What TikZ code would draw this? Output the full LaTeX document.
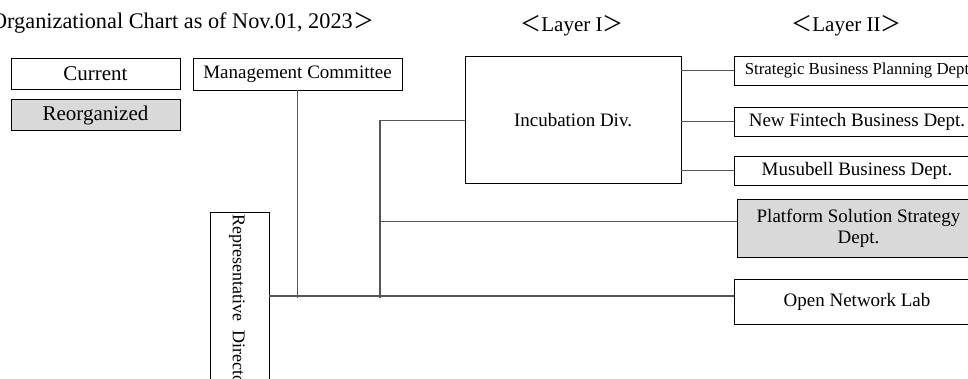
\documentclass[tikz,border=0pt]{standalone}
\usepackage{fontspec}
\setmainfont{Liberation Serif}
\newfontfamily\cjkfont{Noto Sans CJK JP}
\newcommand\ltbr{{\cjkfont ＜}}
\newcommand\gtbr{{\cjkfont ＞}}
\definecolor{linegray}{RGB}{85,85,85}
\definecolor{boxgray}{RGB}{217,217,217}
\begin{document}
\begin{tikzpicture}[x=1pt,y=-1pt,
  box/.style={draw=black, line width=0.8pt, rectangle, inner sep=0pt, align=center},
  conn/.style={draw=linegray, line width=1.2pt},
  f19/.style={font=\fontsize{19}{21}\selectfont},
  f21/.style={font=\fontsize{21}{23}\selectfont}]
\useasboundingbox (0,0) rectangle (968,378);
\clip (0,0) rectangle (968,378);
\fill[white] (0,0) rectangle (968,378);

% headings
\node[font=\fontsize{22.3}{24}\selectfont, anchor=base east, inner sep=0pt] (title) at (353,28) {Organizational Chart as of Nov.01, 2023};
\node[f21, anchor=base west, inner sep=0pt] (titlegt) at (title.base east) {\gtbr};
\node[f21, anchor=base, inner sep=0pt] (layer1) at (572,31) {\ltbr Layer I\gtbr};
\node[f21, anchor=base, inner sep=0pt] (layer2) at (846.5,31) {\ltbr Layer II\gtbr};

% legend
\node[box, f21, minimum width=169pt, minimum height=31pt] (cur) at (95.5,73.7) {Current};
\node[box, f21, fill=boxgray, minimum width=169pt, minimum height=31pt] (reo) at (95.5,115.3) {Reorganized};

% management committee
\node[box, f19, minimum width=209pt, minimum height=32pt] (mc) at (297.5,74) {Management Committee};

% representative director
\node[box, minimum width=59pt, minimum height=208pt] (rep) at (239.5,316) {};
\node[font=\fontsize{18}{20}\selectfont, rotate=-90, anchor=west, inner sep=0pt] (reptext) at (237,214) {Representative\ \ Director};

% layer I
\node[box, f19, minimum width=216pt, minimum height=127pt] (inc) at (573,120.3) {Incubation Div.};

% layer II
\node[box, font=\fontsize{16.8}{19}\selectfont, minimum width=246pt, minimum height=28.3pt] (sbp) at (857,70.8) {Strategic Business Planning Dept};
\node[box, f19, minimum width=246pt, minimum height=29pt] (nf) at (857,121.5) {New Fintech Business Dept.};
\node[box, f19, minimum width=246pt, minimum height=28.3pt] (mus) at (857,170.8) {Musubell Business Dept.};
\node[box, f19, fill=boxgray, minimum width=243pt, minimum height=58pt] (psd) at (858.5,228.3) {Platform Solution Strategy\\Dept.};
\node[box, f19, minimum width=246pt, minimum height=45pt] (onl) at (857,301.5) {Open Network Lab};

% junction coordinates
\coordinate (mainy) at (0,296);
\coordinate (branchx) at (380,0);
\coordinate (psdy) at (0,221.7);
\coordinate (jm) at (mc.south |- mainy);
\coordinate (jb) at (branchx |- mainy);
\coordinate (jtop) at (branchx |- inc.west);
\coordinate (jpsd) at (branchx |- psdy);

% connectors
\draw[conn] (rep.east |- mainy) -- (onl.west |- mainy);
\draw[conn] (mc.south) -- ([yshift=-1.5pt]jm);
\draw[conn] (jtop) -- ([yshift=-1.5pt]jb);
\draw[conn] (jtop) -- (inc.west);
\draw[conn] (jpsd) -- (psd.west |- psdy);
\draw[conn] (inc.east |- sbp.west) -- (sbp.west);
\draw[conn] (inc.east |- nf.west) -- (nf.west);
\draw[conn] (inc.east |- mus.west) -- (mus.west);
\end{tikzpicture}
\end{document}
